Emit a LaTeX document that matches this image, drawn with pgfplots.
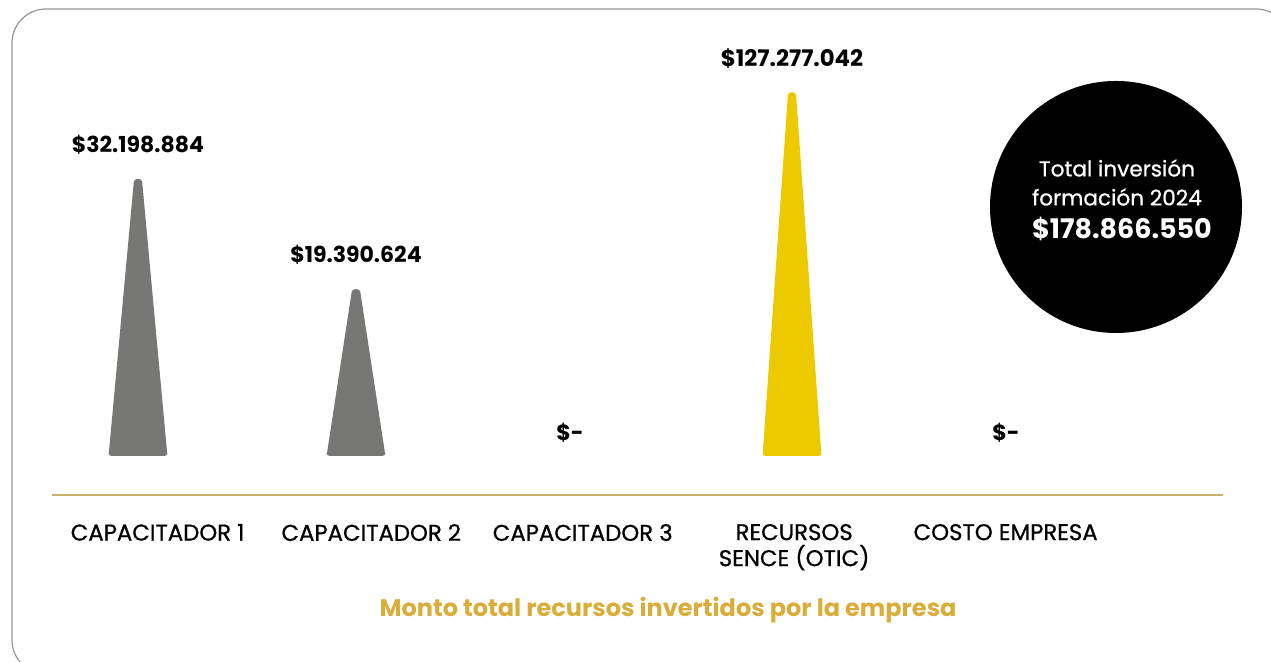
\documentclass[border=0pt]{standalone}
\usepackage{pgfplots}
\pgfplotsset{compat=1.18}
\usepackage{fontspec}
\setmainfont{Poppins}
\newfontfamily\medfont[FakeBold=0.8]{Poppins}
\definecolor{barGray}{RGB}{119,119,117}
\definecolor{barYellow}{RGB}{237,201,0}
\definecolor{lineGold}{RGB}{201,178,106}
\definecolor{titleGold}{RGB}{218,172,58}
\definecolor{frameGray}{RGB}{150,150,150}
\begin{document}
\begin{tikzpicture}[x=0.5pt,y=0.5pt]
\useasboundingbox (0,0) rectangle (1271,662);
\begin{scope}
\clip (0,0) rectangle (1271,662);
\draw[frameGray, line width=0.6pt, rounded corners=17pt] (12,-12) rectangle (1290,653);
\end{scope}
% primary axis (capacitadores)
\begin{axis}[
  at={(14.5pt,103pt)}, anchor=south west,
  scale only axis, width=545pt, height=200pt,
  xmin=-0.5, xmax=4.5, ymin=0, ymax=46.5e6,
  axis line style={draw=none}, tick style={draw=none},
  ytick=\empty,
  xtick={0.09,1.07,2.04,3.01,3.98},
  xticklabels={CAPACITADOR 1,CAPACITADOR 2,CAPACITADOR 3,{RECURSOS\\SENCE (OTIC)},COSTO EMPRESA},
  xticklabel style={font=\medfont\fontsize{11.4pt}{13pt}\selectfont, align=center, anchor=north, yshift=-30.5pt},
  clip=false,
]
\addplot[fill=barGray, draw=none, rounded corners=1.5pt] coordinates {(-0.135,0) (-0.018,32198884) (0.018,32198884) (0.135,0)} \closedcycle;
\addplot[fill=barGray, draw=none, rounded corners=1.5pt] coordinates {(0.865,0) (0.982,19390624) (1.018,19390624) (1.135,0)} \closedcycle;
\addplot[draw=none, nodes near coords, point meta=explicit symbolic,
  every node near coord/.append style={font=\fontsize{11pt}{13pt}\selectfont\bfseries, anchor=center, yshift=17pt}]
  coordinates {(0,32198884)[\$32.198.884] (1,19390624)[\$19.390.624]};
\addplot[draw=none, nodes near coords, point meta=explicit symbolic,
  every node near coord/.append style={font=\fontsize{11pt}{13pt}\selectfont\bfseries, anchor=center, yshift=11.5pt, xshift=-2pt}]
  coordinates {(2,0)[\$-] (4,0)[\$-]};
\end{axis}
% secondary axis (SENCE)
\begin{axis}[
  at={(14.5pt,103pt)}, anchor=south west,
  scale only axis, width=545pt, height=200pt,
  xmin=-0.5, xmax=4.5, ymin=0, ymax=140e6,
  hide axis, clip=false,
]
\addplot[fill=barYellow, draw=none, rounded corners=1.5pt] coordinates {(2.865,0) (2.982,127277042) (3.018,127277042) (3.135,0)} \closedcycle;
\addplot[draw=none, nodes near coords, point meta=explicit symbolic,
  every node near coord/.append style={font=\fontsize{11.4pt}{13pt}\selectfont\bfseries, anchor=center, yshift=17pt}]
  coordinates {(3,127277042)[\$127.277.042]};
\end{axis}
\draw[lineGold, line width=1pt] (52,167) -- (1223,167);
\fill[black] (1116,455) circle (126);
\node[white, font=\medfont\fontsize{10.8pt}{13pt}\selectfont] at (1117,494) {Total inversión};
\node[white, font=\medfont\fontsize{10.8pt}{13pt}\selectfont] at (1117,465) {formación 2024};
\node[white, font=\fontsize{13.5pt}{15pt}\selectfont\bfseries] at (1122,433) {\$178.866.550};
\node[titleGold, font=\fontsize{12pt}{14pt}\selectfont\bfseries] at (668,52) {Monto total recursos invertidos por la empresa};
\end{tikzpicture}
\end{document}
